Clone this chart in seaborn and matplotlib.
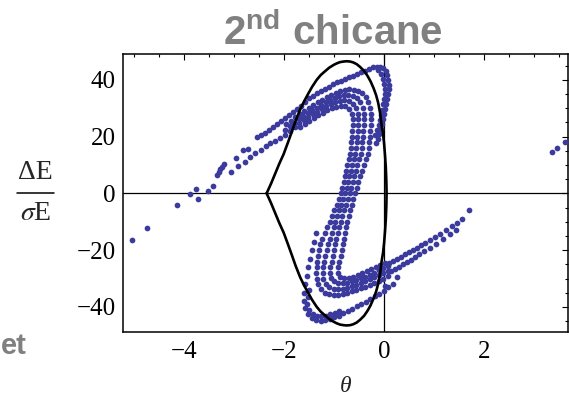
import numpy as np
import pandas as pd
import matplotlib
matplotlib.use("Agg")
import matplotlib.pyplot as plt
from matplotlib.lines import Line2D
from matplotlib.ticker import MultipleLocator
import seaborn as sns

# ---------------- data ----------------
# separatrix (closed curve): upper half then lower half
sep_theta = [-2.35, -2.26, -2.18, -2.10, -2.01, -1.93, -1.85, -1.77, -1.68, -1.60, -1.52, -1.44,
             -1.35, -1.27, -1.18, -1.10, -1.01, -0.94, -0.88, -0.81, -0.75, -0.68, -0.62, -0.55,
             -0.48, -0.40, -0.33, -0.27, -0.21, -0.16, -0.12, -0.08, -0.05, -0.02, 0.00, 0.02,
             0.035, 0.045, 0.05,
             0.045, 0.035, 0.02, 0.00, -0.02, -0.05, -0.08, -0.12, -0.16, -0.21, -0.27, -0.33,
             -0.40, -0.48, -0.55, -0.62, -0.68, -0.75, -0.81, -0.88, -0.94, -1.01, -1.10, -1.18,
             -1.27, -1.35, -1.44, -1.52, -1.60, -1.68, -1.77, -1.85, -1.93, -2.01, -2.10, -2.18,
             -2.26, -2.35]
sep_dE = [0.0, 3.5, 6.9, 10.3, 13.8, 17.6, 21.5, 25.5, 29.5, 32.4, 35.0, 37.5,
          39.9, 41.6, 43.0, 44.2, 45.2, 45.8, 46.2, 46.4, 46.5, 46.4, 46.1, 45.5,
          44.5, 43.1, 41.3, 39.4, 37.0, 34.6, 32.0, 28.3, 24.0, 20.8, 17.5, 13.2,
          9.0, 4.5, 0.0,
          -4.5, -9.0, -13.2, -17.5, -20.8, -24.0, -28.3, -32.0, -34.6, -37.0, -39.4, -41.3,
          -43.1, -44.5, -45.5, -46.1, -46.4, -46.5, -46.4, -46.2, -45.8, -45.2, -44.2, -43.0,
          -41.6, -39.9, -37.5, -35.0, -32.4, -29.5, -25.5, -21.5, -17.6, -13.8, -10.3, -6.9,
          -3.5, 0.0]

# left tail (sparse dots)
tail_theta = [-5.05, -4.75, -4.15, -3.88, -3.76, -3.73, -3.53, -3.43, -3.34, -3.31, -3.28, -3.25,
              -3.21, -3.07, -2.97, -2.83, -2.73, -2.68, -2.58]
tail_dE = [-16.4, -12.3, -4.1, -0.2, 1.4, -2.0, 0.8, 2.6, 6.6, 7.6, 8.5, 9.4,
           10.3, 7.4, 12.5, 15.2, 15.5, 12.7, 14.1]

# inner tail strand joining the thick upper band
tailB_theta = [-1.88, -1.98, -2.08, -2.18, -2.28, -2.37, -2.47, -2.78, -2.92]
tailB_dE = [21.8, 20.6, 19.4, 18.3, 17.6, 16.8, 15.4, 11.2, 9.5]

# outer upper arc
arcA_theta = [-2.55, -2.47, -2.39, -2.31, -2.23, -2.15, -2.07, -1.99, -1.91, -1.83, -1.75, -1.67,
              -1.59, -1.51, -1.43, -1.35, -1.27, -1.19, -1.11, -1.03, -0.95, -0.87, -0.79, -0.71,
              -0.63, -0.55, -0.47, -0.39, -0.31, -0.23, -0.15, -0.08, -0.02, 0.03, 0.06, 0.08,
              0.09, 0.09, 0.08, 0.06, 0.04, 0.02, 0.00, -0.02, -0.04, -0.07, -0.10, -0.13, -0.17]
arcA_dE = [19.7, 20.5, 21.4, 22.3, 23.2, 24.3, 25.4, 26.5, 27.6, 28.6, 29.7, 30.9,
           32.1, 33.4, 34.4, 35.3, 36.1, 36.9, 37.6, 38.4, 39.1, 39.7, 40.3, 40.9,
           41.4, 42.0, 42.6, 43.1, 43.7, 44.3, 44.6, 44.6, 44.1, 43.0, 41.6, 40.0,
           38.3, 36.6, 34.9, 33.2, 31.5, 29.8, 28.0, 26.3, 24.5, 22.7, 21.0, 19.3, 17.6]

# second strand along the right side of the outer arc
arcA2_theta = [-0.12, -0.07, -0.03, 0.00, 0.01, 0.01, 0.00, -0.02, -0.04, -0.06, -0.08, -0.11, -0.14, -0.18]
arcA2_dE = [43.5, 42.0, 40.3, 38.5, 36.7, 34.9, 33.1, 31.3, 29.5, 27.7, 25.9, 24.1, 22.3, 20.5]

# thick upper band (four strands)
up1_theta = [-0.63, -0.65, -0.70, -0.78, -0.87, -0.96, -1.05, -1.14, -1.23, -1.32, -1.41, -1.50, -1.59, -1.68]
up1_dE = [26.0, 28.0, 29.7, 30.6, 30.8, 30.5, 30.0, 29.3, 28.4, 27.5, 26.5, 25.4, 24.3, 23.2]
up2_theta = [-0.52, -0.53, -0.57, -0.63, -0.71, -0.80, -0.89, -0.98, -1.07, -1.16, -1.25, -1.34,
             -1.43, -1.52, -1.61, -1.70, -1.79]
up2_dE = [26.0, 28.0, 30.0, 31.6, 32.5, 32.8, 32.6, 32.1, 31.4, 30.6, 29.7, 28.8,
          27.8, 26.8, 25.7, 24.6, 23.4]
up3_theta = [-0.40, -0.41, -0.43, -0.48, -0.55, -0.63, -0.72, -0.81, -0.90, -0.99, -1.08, -1.17,
             -1.26, -1.35, -1.44, -1.53, -1.62, -1.71, -1.80, -1.89, -1.98]
up3_dE = [26.0, 28.0, 30.0, 32.0, 33.5, 34.3, 34.6, 34.5, 34.1, 33.5, 32.8, 32.0,
          31.1, 30.2, 29.2, 28.2, 27.1, 26.0, 24.8, 23.6, 22.4]
up4_theta = [-0.26, -0.27, -0.29, -0.32, -0.37, -0.44, -0.52, -0.61, -0.70, -0.79, -0.88, -0.97,
             -1.06, -1.15, -1.24, -1.33, -1.42, -1.51, -1.60, -1.69, -1.78, -1.87, -1.96]
up4_dE = [26.0, 28.0, 30.0, 32.0, 33.8, 35.2, 36.0, 36.5, 36.6, 36.4, 36.0, 35.4,
          34.7, 33.9, 33.0, 32.0, 31.0, 30.0, 29.0, 27.9, 26.8, 25.6, 24.4]

# diagonal middle part (four strands, common energy levels)
mid_dE = [24, 22, 20, 18, 16, 14, 12, 10, 8, 6, 4, 2, 0, -2, -4, -6, -8, -10, -12, -14,
          -16, -18, -20, -22, -24, -26]
mid1_theta = [-0.63, -0.64, -0.65, -0.66, -0.67, -0.69, -0.71, -0.74, -0.77, -0.79, -0.81, -0.84,
              -0.86, -0.90, -0.95, -1.00, -1.05, -1.09, -1.14, -1.19, -1.24, -1.28, -1.31, -1.33,
              -1.34, -1.35]
mid2_theta = [-0.52, -0.53, -0.54, -0.55, -0.56, -0.58, -0.61, -0.64, -0.67, -0.70, -0.72, -0.75,
              -0.78, -0.82, -0.86, -0.90, -0.94, -0.98, -1.01, -1.04, -1.08, -1.12, -1.15, -1.18,
              -1.20, -1.22]
mid3_theta = [-0.41, -0.42, -0.43, -0.44, -0.45, -0.47, -0.50, -0.54, -0.57, -0.60, -0.63, -0.66,
              -0.68, -0.72, -0.76, -0.80, -0.84, -0.87, -0.90, -0.93, -0.96, -0.98, -1.01, -1.03,
              -1.05, -1.08]
mid4_theta = [-0.27, -0.28, -0.29, -0.30, -0.31, -0.33, -0.36, -0.40, -0.44, -0.48, -0.52, -0.55,
              -0.58, -0.62, -0.65, -0.68, -0.71, -0.74, -0.76, -0.78, -0.80, -0.82, -0.85, -0.87,
              -0.90, -0.92]

# thick lower band (four strands)
lo1_theta = [-1.36, -1.35, -1.32, -1.27, -1.19, -1.10, -1.01, -0.92, -0.83, -0.74, -0.65, -0.56,
             -0.47, -0.38, -0.29, -0.20, -0.11, -0.02, 0.07]
lo1_dE = [-28.0, -30.0, -32.0, -33.8, -35.0, -35.6, -35.8, -35.7, -35.4, -35.0, -34.5, -34.0,
          -33.4, -32.8, -32.2, -31.5, -30.8, -30.0, -29.2]
lo2_theta = [-1.23, -1.22, -1.17, -1.10, -1.01, -0.92, -0.83, -0.74, -0.65, -0.56, -0.47, -0.38,
             -0.29, -0.20, -0.11, -0.02, 0.07]
lo2_dE = [-28.0, -30.0, -31.8, -33.0, -33.6, -33.8, -33.6, -33.2, -32.7, -32.2, -31.6, -31.0,
          -30.3, -29.6, -28.9, -28.1, -27.3]
lo3_theta = [-1.09, -1.06, -1.00, -0.92, -0.83, -0.74, -0.65, -0.56, -0.47, -0.38, -0.29, -0.20,
             -0.11, -0.02, 0.07]
lo3_dE = [-28.0, -29.8, -31.0, -31.6, -31.7, -31.4, -31.0, -30.5, -29.9, -29.3, -28.6, -27.9,
          -27.1, -26.3, -25.5]
lo4_theta = [-0.93, -0.88, -0.80, -0.71, -0.62, -0.53, -0.44, -0.35, -0.26, -0.17, -0.08, 0.01]
lo4_dE = [-28.0, -29.3, -29.8, -29.7, -29.3, -28.8, -28.2, -27.5, -26.8, -26.0, -25.2, -24.4]

# right-hand lower tail
tr1_theta = [0.10, 0.18, 0.26, 0.34, 0.42, 0.50, 0.58, 0.66, 0.74, 0.82, 0.92, 1.02, 1.12, 1.24,
             1.36, 1.46, 1.56, 1.69]
tr1_dE = [-24.6, -23.9, -23.1, -22.3, -21.5, -20.7, -19.9, -19.1, -18.3, -17.5, -16.4, -15.3,
          -14.2, -12.9, -11.6, -10.4, -9.2, -5.9]
tr2_theta = [0.14, 0.22, 0.30, 0.38, 0.46, 0.54, 0.62, 0.70, 0.80, 0.92, 1.04, 1.18, 1.32, 1.44,
             0.25, 0.02]
tr2_dE = [-27.4, -26.6, -25.8, -25.0, -24.2, -23.3, -22.4, -21.5, -20.4, -19.1, -17.7, -16.1,
          -14.4, -12.9, -29.6, -32.5]

# outer lower arc
arcL_theta = [-1.36, -1.40, -1.44, -1.48, -1.52, -1.55, -1.58, -1.60, -1.61, -1.59, -1.53, -1.45,
              -1.36, -1.27, -1.18, -1.09, -1.00, -0.91, -0.82, -0.73, -0.64, -0.55, -0.46, -0.37,
              -0.28, -0.19, -0.10, -0.01, 0.08, 0.17]
arcL_dE = [-14.0, -17.0, -20.0, -23.0, -26.0, -29.0, -32.0, -35.0, -38.0, -40.5, -42.5, -43.8,
           -44.5, -44.8, -44.7, -44.3, -43.7, -43.0, -42.2, -41.4, -40.6, -39.8, -39.0, -38.2,
           -37.3, -36.3, -35.3, -34.2, -33.0, -31.8]
arcL2_theta = [-1.50, -1.53, -1.54, -1.50, -1.43, -1.35, -1.26, -1.17, -1.08, -0.99, -0.90]
arcL2_dE = [-34.0, -36.5, -39.0, -41.0, -42.3, -43.0, -43.3, -43.1, -42.6, -42.0, -41.3]

# stray particles at the right edge
stray_theta = [3.35, 3.45, 3.62]
stray_dE = [14.6, 15.8, 18.0]

xticks = [-4, -2, 0, 2]
xtick_labels = ["\u22124", "\u22122", "0", "2"]
yticks = [-40, -20, 0, 20, 40]
ytick_labels = ["\u221240", "\u221220", "0", "20", "40"]

# ---------------- figure ----------------
sns.set_style("white")
plt.rcParams["font.family"] = ["Liberation Serif", "DejaVu Serif"]
plt.rcParams["axes.unicode_minus"] = True
plt.rcParams["mathtext.fontset"] = "stix"
plt.rcParams["mathtext.bf"] = "Liberation Sans:bold"
plt.rcParams["mathtext.rm"] = "Liberation Sans"

W, H = 569, 403
fig = plt.figure(figsize=(W / 100, H / 100), dpi=100)
fig.patch.set_facecolor("white")
L, R, T, B = 122.7, 568.0, 54.0, 331.7
ax = fig.add_axes([L / W, 1 - B / H, (R - L) / W, (B - T) / H])

groups = [
    (tail_theta, tail_dE), (tailB_theta, tailB_dE), (arcA_theta, arcA_dE), (arcA2_theta, arcA2_dE),
    (up1_theta, up1_dE), (up2_theta, up2_dE), (up3_theta, up3_dE), (up4_theta, up4_dE),
    (mid1_theta, mid_dE), (mid2_theta, mid_dE), (mid3_theta, mid_dE), (mid4_theta, mid_dE),
    (lo1_theta, lo1_dE), (lo2_theta, lo2_dE), (lo3_theta, lo3_dE), (lo4_theta, lo4_dE),
    (tr1_theta, tr1_dE), (tr2_theta, tr2_dE), (arcL_theta, arcL_dE), (arcL2_theta, arcL2_dE),
    (stray_theta, stray_dE),
]
dots = pd.concat([pd.DataFrame({"theta": t, "dE": e}) for t, e in groups], ignore_index=True)

DOT = "#3b3b9e"
ax.axhline(0, color="black", lw=0.9, zorder=2)
ax.axvline(0, color="black", lw=0.9, zorder=2)
sns.scatterplot(data=dots, x="theta", y="dE", ax=ax, s=17, color=DOT, linewidth=0,
                legend=False, zorder=3)
sep = pd.DataFrame({"theta": sep_theta, "dE": sep_dE})
sns.lineplot(data=sep, x="theta", y="dE", sort=False, estimator=None, ax=ax,
             color="black", linewidth=1.9, zorder=4)

ax.set_xlim(-5.23, 3.68)
ax.set_ylim(-48.7, 49.05)
ax.set_xticks(xticks)
ax.set_xticklabels(xtick_labels)
ax.set_yticks(yticks)
ax.set_yticklabels(ytick_labels)
ax.xaxis.set_minor_locator(MultipleLocator(0.5))
ax.yaxis.set_minor_locator(MultipleLocator(5))
ax.tick_params(which="both", direction="in", top=True, right=True, width=0.8,
               colors="black", labelsize=18)
ax.tick_params(which="major", length=4.2)
ax.tick_params(which="minor", length=2.3)
ax.tick_params(axis="x", pad=7)
ax.tick_params(axis="y", pad=5)
ax.set_xlabel("")
ax.set_ylabel("")
for s in ax.spines.values():
    s.set_linewidth(1.1)
    s.set_color("black")

# title with superscript
fig.text(333 / W, 1 - 45 / H, r"$\mathbf{2^{nd}}$ chicane", ha="center", va="baseline",
         fontsize=29, fontweight="bold", color="#808080", family="Liberation Sans",
         math_fontfamily="custom")
# cropped side label
fig.text(1 / W, 1 - 354 / H, "et", ha="left", va="baseline", fontsize=21,
         fontweight="bold", color="#808080", family="Liberation Sans")

# y label as a fraction
fig.text(35.5 / W, 1 - 173 / H, "\u0394E", ha="center", va="center", fontsize=20,
         family="Liberation Serif")
fig.add_artist(Line2D([17 / W, 54 / W], [1 - 193.3 / H, 1 - 193.3 / H], color="black",
                      lw=1.1, transform=fig.transFigure))
fig.text(35.5 / W, 1 - 214 / H, r"$\sigma$E", ha="center", va="center", fontsize=20,
         family="Liberation Serif", math_fontfamily="stix")

# x label
fig.text(346 / W, 1 - 386 / H, "\u03b8", ha="center", va="center", fontsize=17,
         fontstyle="italic", family="Liberation Serif")

fig.savefig("out.png", dpi=100, facecolor="white")
